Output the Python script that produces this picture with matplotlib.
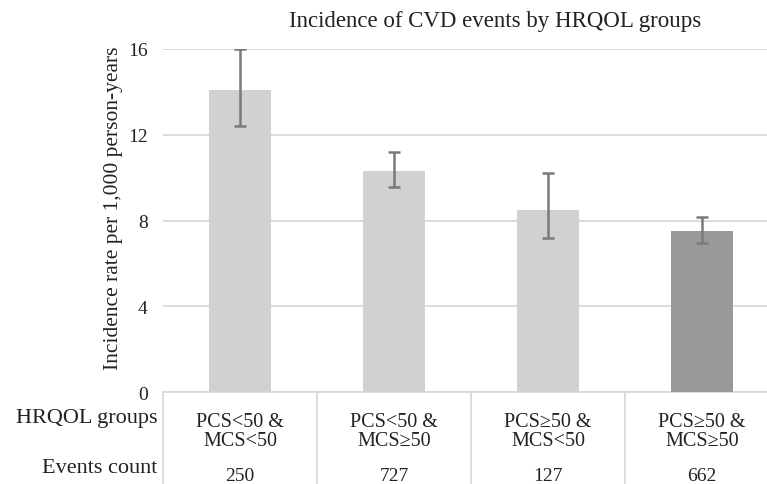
import matplotlib
matplotlib.use("Agg")
import matplotlib.pyplot as plt
import matplotlib.transforms as mtransforms
import numpy as np

# ---- data ----
categories = ["PCS<50 &\nMCS<50", "PCS<50 &\nMCS≥50", "PCS≥50 &\nMCS<50", "PCS≥50 &\nMCS≥50"]
rates = [14.1, 10.33, 8.51, 7.5]
ci_low = [12.4, 9.55, 7.2, 6.95]
ci_high = [16.0, 11.18, 10.22, 8.15]
events = ["250", "727", "127", "662"]
yticks = [0, 4, 8, 12, 16]
title = "Incidence of CVD events by HRQOL groups"
ylabel = "Incidence rate per 1,000 person-years"
row_labels = ["HRQOL groups", "Events count"]

plt.rcParams['font.family'] = ['Liberation Serif', 'DejaVu Serif']

W, H = 767, 485
fig = plt.figure(figsize=(W / 100, H / 100), dpi=100)
ax_left, ax_bottom, ax_w, ax_h = 163, 485 - 393.3, 616, 343.3
ax = fig.add_axes([ax_left / W, ax_bottom / H, ax_w / W, ax_h / H])

x = np.arange(len(categories))
colors = ["#d0d1d0", "#d0d1d0", "#d0d1d0", "#999999"]
rates_a = np.array(rates)
yerr = np.vstack([rates_a - np.array(ci_low), np.array(ci_high) - rates_a])
ax.bar(x, rates, width=0.4, color=colors, zorder=2)
ax.errorbar(x, rates, yerr=yerr, fmt='none', ecolor="#7a7a7a", elinewidth=1.8,
            capsize=4, capthick=1.8, zorder=3)

ax.set_xlim(-0.5, 3.5)
ax.set_ylim(0, 16)
ax.set_yticks(yticks)
ax.set_yticklabels([str(t) for t in yticks], fontsize=14, color="#222222")
ax.tick_params(axis='y', length=0, pad=11)
ax.grid(axis='y', color="#d9d9d9", linewidth=1.3, zorder=0)
for s in ax.spines.values():
    s.set_visible(False)

# category labels as x tick labels
ax.set_xticks(x)
ax.set_xticklabels(categories, fontsize=14.5, color="#222222", linespacing=1.05)
ax.tick_params(axis='x', length=0, pad=14)

# table lines
trans = mtransforms.blended_transform_factory(ax.transData, ax.transAxes)
for b in np.arange(-0.5, len(categories) + 0.5, 1.0):
    ax.plot([b, b], [0, -0.3], transform=trans, color="#d9d9d9", linewidth=1.3,
            clip_on=False, zorder=1)
ax.plot([-0.5, 3.5], [0, 0], transform=trans, color="#d9d9d9", linewidth=1.3,
        clip_on=False, zorder=1)

# events count row
for i, e in enumerate(events):
    ax.text(i, (393.3 - 481) / ax_h, e, transform=trans, ha='center', va='baseline',
            fontsize=14, color="#222222")

# row labels
ax.text((157 - 163) / ax_w, (393.3 - 423) / ax_h, row_labels[0], transform=ax.transAxes,
        ha='right', va='baseline', fontsize=16, color="#222222")
ax.text((157 - 163) / ax_w, (393.3 - 473) / ax_h, row_labels[1], transform=ax.transAxes,
        ha='right', va='baseline', fontsize=16, color="#222222")

# y label
ax.set_ylabel(ylabel, fontsize=15.5, color="#222222")
ax.yaxis.set_label_coords((123 - 163) / ax_w, (393.3 - 208) / ax_h)

# title
ax.text((495.5 - 163) / ax_w, (393.3 - 27) / ax_h, title, transform=ax.transAxes,
        ha='center', va='baseline', fontsize=16.5, color="#222222")

fig.savefig("out.png", dpi=100)
